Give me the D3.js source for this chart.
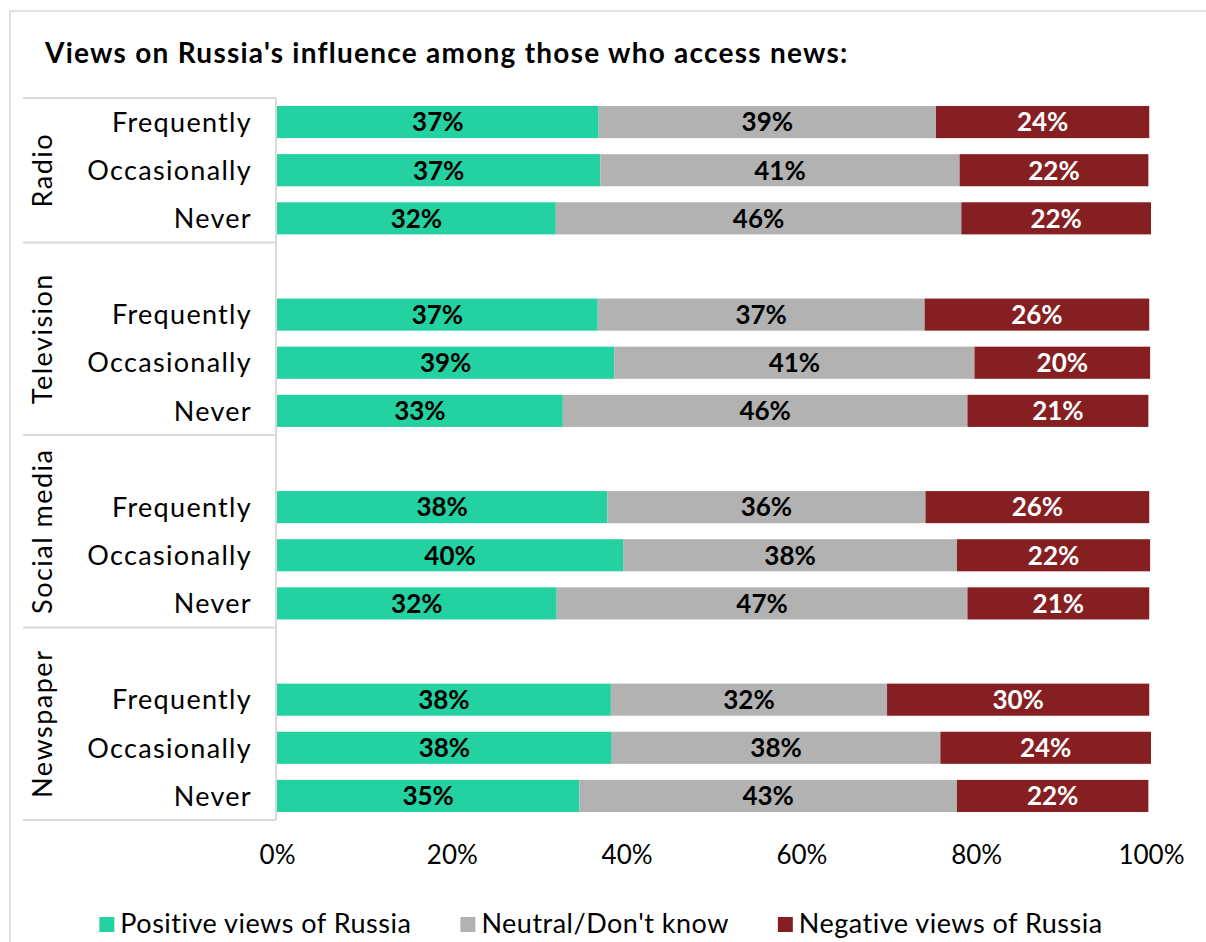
<!DOCTYPE html>
<html>
<head>
<meta charset="utf-8">
<script src="https://cdn.jsdelivr.net/npm/d3@7"></script>
<style>
  html, body { margin: 0; padding: 0; background: #fff; }
  svg { display: block; font-family: Lato, "Open Sans", sans-serif; }
</style>
</head>
<body>
<svg id="chart" width="1206" height="942"></svg>
<script>
// ---- Data ----
const title = "Views on Russia's influence among those who access news:";
const groups = ["Radio", "Television", "Social media", "Newspaper"];
const frequencies = ["Frequently", "Occasionally", "Never"];
const seriesNames = ["Positive views of Russia", "Neutral/Don't know", "Negative views of Russia"];
// values per row, in order: Radio F/O/N, Television F/O/N, Social media F/O/N, Newspaper F/O/N
const positive = [36.8, 37.0, 31.9, 36.7, 38.6, 32.7, 37.8, 39.6, 32.0, 38.2, 38.3, 34.6];
const neutral  = [38.6, 41.1, 46.4, 37.4, 41.2, 46.3, 36.4, 38.2, 47.0, 31.6, 37.6, 43.2];
const negative = [24.4, 21.6, 21.7, 25.7, 20.1, 20.7, 25.6, 22.1, 20.8, 30.0, 24.1, 21.9];
const xTicks = [0, 20, 40, 60, 80, 100];
const colors = ["#24D1A0", "#B2B2B2", "#861F22"];
const labelColors = ["#000000", "#000000", "#FFFFFF"];

// ---- Build rows ----
const rows = [];
groups.forEach((g, gi) => {
  frequencies.forEach((f, fi) => {
    const i = gi * 3 + fi;
    rows.push({ key: g + "|" + f, group: g, freq: f, values: [positive[i], neutral[i], negative[i]] });
  });
});
// slot keys: each group after the first is preceded by an empty slot
const slots = [];
groups.forEach((g, gi) => {
  if (gi > 0) slots.push(g + "|gap");
  frequencies.forEach(f => slots.push(g + "|" + f));
});

const svg = d3.select("#chart");
const FONT = "Lato, 'Open Sans', sans-serif";

// frame
svg.append("path")
  .attr("d", "M10,942 L10,11 L1206,11")
  .attr("fill", "none").attr("stroke", "#d9d9d9").attr("stroke-width", 1.5);

// title
svg.append("text")
  .attr("x", 45).attr("y", 63)
  .attr("font-size", 28).attr("font-weight", "bold").attr("fill", "#000")
  .attr("letter-spacing", 1.25)
  .text(title);

// scales
const x = d3.scaleLinear().domain([0, 100]).range([277, 1151]);
const y = d3.scaleBand().domain(slots).range([98, 820]).paddingInner(0.333).paddingOuter(0.1665);

// stacked series
const stackData = rows.map(r => ({ key: r.key, s0: r.values[0], s1: r.values[1], s2: r.values[2] }));
const stacked = d3.stack().keys(["s0", "s1", "s2"])(stackData);

const seg = svg.append("g").selectAll("g").data(stacked).join("g")
  .attr("fill", (d, i) => colors[i]);
seg.selectAll("rect").data(d => d).join("rect")
  .attr("x", d => x(d[0]))
  .attr("y", d => y(d.data.key))
  .attr("width", d => x(d[1]) - x(d[0]))
  .attr("height", y.bandwidth());

// data labels
const lab = svg.append("g").selectAll("g").data(stacked).join("g")
  .attr("fill", (d, i) => labelColors[i]);
lab.selectAll("text").data(d => d).join("text")
  .attr("x", d => (x(d[0]) + x(d[1])) / 2)
  .attr("y", d => y(d.data.key) + y.bandwidth() / 2)
  .attr("dy", "0.36em")
  .attr("text-anchor", "middle")
  .attr("font-size", 26).attr("font-weight", "bold")
  .text(d => Math.round(d[1] - d[0]) + "%");

// category table lines
const step = y.step();
const r0 = y.range()[0];
const boundaries = [0, 3, 7, 11, 15].map(i => r0 + i * step);
const grid = svg.append("g").attr("stroke", "#d9d9d9").attr("stroke-width", 2);
grid.selectAll("line.h").data(boundaries).join("line")
  .attr("class", "h")
  .attr("x1", 23).attr("x2", 276)
  .attr("y1", d => d).attr("y2", d => d);
grid.append("line")
  .attr("x1", 276).attr("x2", 276)
  .attr("y1", boundaries[0]).attr("y2", boundaries[boundaries.length - 1]);

// category labels
svg.append("g").selectAll("text").data(rows).join("text")
  .attr("x", 252)
  .attr("y", d => y(d.key) + y.bandwidth() / 2)
  .attr("dy", "0.36em")
  .attr("text-anchor", "end")
  .attr("font-size", 27).attr("fill", "#000")
  .attr("letter-spacing", 1.3)
  .text(d => d.freq);

// group labels (rotated)
svg.append("g").selectAll("text").data(groups).join("text")
  .attr("transform", (d, i) => `translate(52,${(boundaries[i] + boundaries[i + 1]) / 2}) rotate(-90)`)
  .attr("text-anchor", "middle")
  .attr("font-size", 27).attr("fill", "#000")
  .attr("letter-spacing", 1.5)
  .text(d => d);

// x axis
const xAxis = d3.axisBottom(x).tickValues(xTicks).tickFormat(d => d + "%").tickSize(0).tickPadding(0);
const ax = svg.append("g").attr("transform", "translate(0,864)").call(xAxis);
ax.select(".domain").remove();
ax.selectAll("text").attr("font-family", FONT).attr("font-size", 26).attr("fill", "#000").attr("dy", 0);

// legend
const legend = svg.append("g");
const items = legend.selectAll("g").data(seriesNames).join("g");
items.append("rect").attr("width", 15).attr("height", 15).attr("y", -16)
  .attr("fill", (d, i) => colors[i]);
items.append("text").attr("x", 21).attr("y", 0)
  .attr("font-size", 27).attr("fill", "#000")
  .attr("letter-spacing", 0.5)
  .text(d => d);
const gap = 49;
const widths = [];
items.each(function () {
  widths.push(21 + this.querySelector("text").getComputedTextLength());
});
const total = d3.sum(widths) + gap * (widths.length - 1);
const start = 601 - total / 2;
items.attr("transform", (d, i) => {
  const tx = start + d3.sum(widths.slice(0, i)) + gap * i;
  return `translate(${tx},933)`;
});
</script>
</body>
</html>
